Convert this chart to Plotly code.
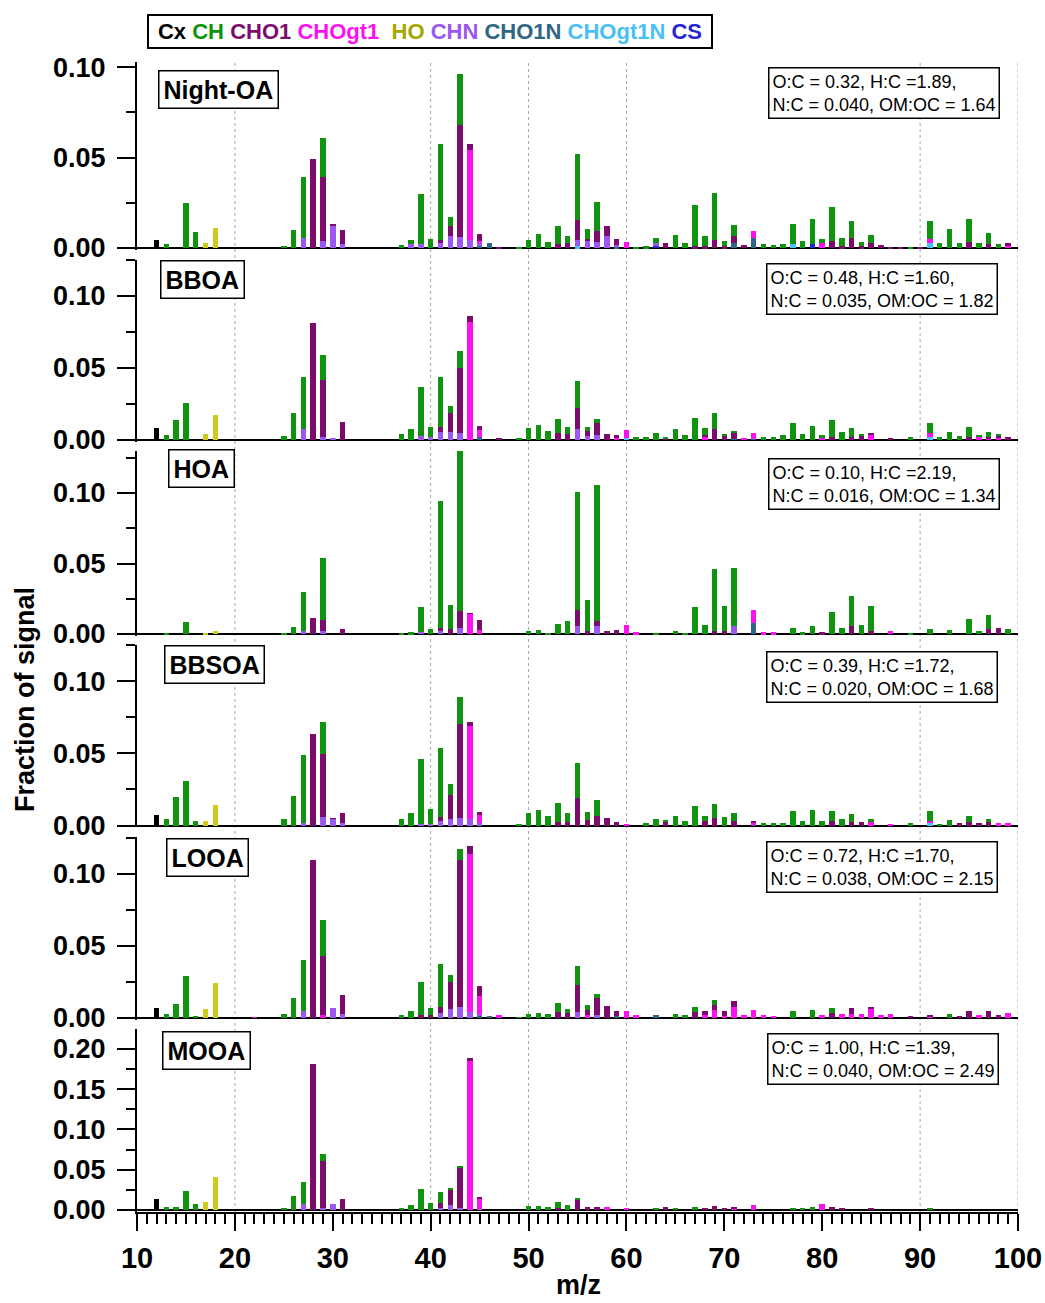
import plotly.graph_objects as go

# ---------------- data ----------------
MZ = list(range(12, 101))
CATEGORIES = ["Cx", "CH", "CHO1", "CHOgt1", "HO", "CHN", "CHO1N", "CHOgt1N", "CS"]
STACK_ORDER = ["CS", "CHOgt1N", "CHO1N", "CHN", "HO", "CHOgt1", "CHO1", "CH", "Cx"]
PANEL_NAMES = ["Night-OA", "BBOA", "HOA", "BBSOA", "LOOA", "MOOA"]
OC = ["0.32", "0.48", "0.10", "0.39", "0.72", "1.00"]
HC = ["1.89", "1.60", "2.19", "1.72", "1.70", "1.39"]
NC = ["0.040", "0.035", "0.016", "0.020", "0.038", "0.040"]
OMOC = ["1.64", "1.82", "1.34", "1.68", "2.15", "2.49"]
X_TICKS = [10, 20, 30, 40, 50, 60, 70, 80, 90, 100]
GRID_MZ = [20, 40, 50, 60, 90, 100]

# Night-OA
NIGHT_Cx = {12: 0.0046}
NIGHT_CH = {13: 0.002, 15: 0.025, 16: 0.0088, 25: 0.0013, 26: 0.0101, 27: 0.0335, 29: 0.0216,
            37: 0.0015, 38: 0.0022, 39: 0.0273, 40: 0.005, 41: 0.0534, 42: 0.0051, 43: 0.0285,
            49: 0.0005, 50: 0.0042, 51: 0.0075, 52: 0.0033, 53: 0.010, 54: 0.0036, 55: 0.0361,
            56: 0.0051, 57: 0.0162, 61: 0.0008, 62: 0.001, 63: 0.003, 65: 0.0074, 66: 0.0028,
            67: 0.0226, 68: 0.0056, 69: 0.0258, 70: 0.0027, 71: 0.0059, 74: 0.0024, 75: 0.0018,
            76: 0.002, 77: 0.0114, 78: 0.0037, 79: 0.014, 80: 0.0024, 81: 0.019, 82: 0.0045,
            83: 0.0094, 84: 0.0023, 85: 0.0042, 89: 0.0008, 91: 0.0095, 92: 0.0028, 93: 0.0103,
            94: 0.0028, 95: 0.0129, 96: 0.0028, 97: 0.0065, 98: 0.002}
NIGHT_CHO1 = {28: 0.049, 29: 0.0355, 30: 0.001, 31: 0.0078, 41: 0.0014, 42: 0.0056, 43: 0.0618,
              44: 0.0036, 45: 0.0035, 47: 0.0005, 53: 0.002, 54: 0.0028, 55: 0.0114, 56: 0.0015,
              57: 0.0059, 58: 0.0054, 59: 0.003, 64: 0.0028, 67: 0.001, 68: 0.001, 69: 0.0046,
              70: 0.001, 71: 0.0038, 72: 0.0018, 81: 0.0037, 82: 0.001, 83: 0.0055, 84: 0.001,
              85: 0.0028, 86: 0.0015, 87: 0.0005, 88: 0.0005, 90: 0.0005, 95: 0.0033, 97: 0.002,
              99: 0.0015}
NIGHT_CHOgt1 = {44: 0.0498, 45: 0.0015, 60: 0.0035, 73: 0.0037, 80: 0.0028, 91: 0.0024, 99: 0.0013}
NIGHT_HO = {17: 0.0028, 18: 0.011}
NIGHT_CHN = {27: 0.0057, 29: 0.0037, 30: 0.0124, 31: 0.002, 38: 0.002, 39: 0.0024, 41: 0.0028,
             42: 0.0064, 43: 0.006, 44: 0.0042, 45: 0.001, 55: 0.0032, 56: 0.0037, 57: 0.0033,
             58: 0.0066, 59: 0.001, 63: 0.001}
NIGHT_CHO1N = {45: 0.0015, 46: 0.0028, 59: 0.0008, 71: 0.0028, 73: 0.0057}
NIGHT_CHOgt1N = {55: 0.001, 77: 0.002, 91: 0.0028}
NIGHT_CS = {63: 0.0015, 79: 0.0022}

# BBOA
BBOA_Cx = {12: 0.008}
BBOA_CH = {13: 0.0034, 14: 0.0138, 15: 0.0257, 25: 0.003, 26: 0.0184, 27: 0.0361, 29: 0.0173,
           37: 0.0039, 38: 0.0076, 39: 0.0342, 40: 0.0067, 41: 0.035, 42: 0.0053, 43: 0.0115,
           49: 0.0007, 50: 0.008, 51: 0.0105, 52: 0.0065, 53: 0.0097, 54: 0.0053, 55: 0.0182,
           56: 0.003, 57: 0.0029, 61: 0.0018, 62: 0.0018, 63: 0.0048, 64: 0.0015, 65: 0.0075,
           66: 0.0036, 67: 0.0155, 68: 0.0045, 69: 0.0114, 70: 0.001, 71: 0.001, 74: 0.0018,
           75: 0.0022, 76: 0.0032, 77: 0.0115, 78: 0.0044, 79: 0.0095, 80: 0.002, 81: 0.0115,
           82: 0.005, 83: 0.0058, 84: 0.0005, 89: 0.0023, 91: 0.0069, 92: 0.0018, 93: 0.0055,
           94: 0.003, 95: 0.0069, 96: 0.0005, 97: 0.003, 98: 0.001}
BBOA_CHO1 = {28: 0.0811, 29: 0.0397, 31: 0.0126, 41: 0.003, 42: 0.0127, 43: 0.0455, 44: 0.0046,
             45: 0.0028, 47: 0.0007, 53: 0.0046, 54: 0.0039, 55: 0.0151, 56: 0.0032, 57: 0.0087,
             58: 0.0039, 59: 0.0018, 64: 0.0005, 68: 0.0015, 69: 0.0074, 70: 0.0031, 71: 0.0042,
             81: 0.0023, 82: 0.0003, 83: 0.0022, 84: 0.0034, 85: 0.001, 87: 0.0011, 95: 0.0023,
             97: 0.001, 98: 0.0012, 99: 0.0023}
BBOA_CHOgt1 = {44: 0.0816, 45: 0.005, 59: 0.0016, 60: 0.0055, 68: 0.002, 72: 0.0008, 73: 0.004,
               80: 0.0015, 85: 0.0036, 91: 0.0026, 96: 0.0023, 97: 0.0013, 98: 0.0016}
BBOA_HO = {17: 0.0041, 18: 0.0177}
BBOA_CHN = {27: 0.0076, 29: 0.0023, 30: 0.0011, 39: 0.0028, 40: 0.002, 41: 0.0057, 42: 0.0057,
            43: 0.0046, 55: 0.0074, 56: 0.003, 57: 0.0033}
BBOA_CHO1N = {45: 0.0019, 71: 0.001, 73: 0.001}
BBOA_CHOgt1N = {60: 0.0014, 91: 0.002}
BBOA_CS = {}

# HOA
HOA_Cx = {12: 0.001}
HOA_CH = {13: 0.0008, 15: 0.0088, 25: 0.0008, 26: 0.0048, 27: 0.0278, 29: 0.0434, 37: 0.0008,
          38: 0.0012, 39: 0.0178, 40: 0.0033, 41: 0.090, 42: 0.0171, 43: 0.1138, 50: 0.002,
          51: 0.003, 52: 0.001, 53: 0.0071, 54: 0.009, 55: 0.0834, 56: 0.0218, 57: 0.0965,
          63: 0.001, 65: 0.002, 66: 0.001, 67: 0.0193, 68: 0.0064, 69: 0.0444, 70: 0.0178,
          71: 0.0409, 77: 0.004, 78: 0.0012, 79: 0.006, 81: 0.0155, 82: 0.0045, 83: 0.0209,
          84: 0.0067, 85: 0.0182, 89: 0.0008, 91: 0.0033, 93: 0.0026, 95: 0.0107, 96: 0.002,
          97: 0.01, 99: 0.0033}
HOA_CHO1 = {28: 0.0114, 29: 0.0082, 31: 0.0033, 41: 0.002, 42: 0.0036, 43: 0.012, 44: 0.0005,
            45: 0.0072, 55: 0.0111, 56: 0.002, 57: 0.003, 58: 0.0024, 59: 0.003, 69: 0.002,
            70: 0.002, 80: 0.0012, 83: 0.006, 85: 0.002, 97: 0.0036, 98: 0.0043}
HOA_CHOgt1 = {44: 0.0143, 45: 0.003, 60: 0.0064, 61: 0.0012, 73: 0.0091, 74: 0.0012, 75: 0.0012,
              87: 0.002}
HOA_HO = {17: 0.0008, 18: 0.002}
HOA_CHN = {27: 0.002, 29: 0.002, 39: 0.0017, 41: 0.002, 43: 0.004, 55: 0.006, 57: 0.006, 71: 0.006}
HOA_CHO1N = {73: 0.0076}
HOA_CHOgt1N = {}
HOA_CS = {}

# BBSOA
BBSOA_Cx = {12: 0.0076}
BBSOA_CH = {13: 0.0046, 14: 0.0201, 15: 0.0308, 16: 0.0035, 25: 0.0042, 26: 0.0204, 27: 0.047,
            29: 0.022, 37: 0.0046, 38: 0.0086, 39: 0.0453, 40: 0.0106, 41: 0.0479, 42: 0.0074,
            43: 0.0186, 49: 0.001, 50: 0.0086, 51: 0.0111, 52: 0.0065, 53: 0.0129, 54: 0.006,
            55: 0.0245, 56: 0.0058, 57: 0.0111, 62: 0.0018, 63: 0.0042, 64: 0.001, 65: 0.0069,
            66: 0.0035, 67: 0.0136, 68: 0.0035, 69: 0.0099, 70: 0.0058, 71: 0.0058, 74: 0.0018,
            75: 0.0016, 76: 0.0018, 77: 0.0104, 78: 0.0035, 79: 0.0109, 80: 0.0035, 81: 0.007,
            82: 0.0046, 83: 0.0053, 85: 0.002, 89: 0.0018, 91: 0.0074, 92: 0.001, 93: 0.0039,
            95: 0.0046, 97: 0.0023}
BBSOA_CHO1 = {28: 0.0637, 29: 0.044, 30: 0.0005, 31: 0.0072, 41: 0.003, 42: 0.0173, 43: 0.065,
              44: 0.003, 45: 0.0023, 53: 0.0028, 54: 0.0028, 55: 0.019, 56: 0.0039, 57: 0.0063,
              58: 0.0053, 59: 0.0023, 64: 0.0025, 68: 0.003, 69: 0.0051, 71: 0.003, 73: 0.001,
              81: 0.003, 83: 0.0028, 84: 0.0023, 94: 0.0018, 95: 0.0023, 96: 0.0016, 97: 0.0023}
BBSOA_CHOgt1 = {44: 0.0646, 45: 0.0055, 60: 0.0012, 73: 0.0008, 85: 0.0026, 87: 0.0012,
                91: 0.0015, 98: 0.0018, 99: 0.0018}
BBSOA_HO = {17: 0.0035, 18: 0.0139}
BBSOA_CHN = {27: 0.0016, 29: 0.0058, 30: 0.0046, 31: 0.0016, 39: 0.001, 40: 0.001, 41: 0.003,
             42: 0.0042, 43: 0.0051, 44: 0.0042, 45: 0.0015}
BBSOA_CHO1N = {73: 0.001}
BBSOA_CHOgt1N = {91: 0.0015}
BBSOA_CS = {}

# LOOA
LOOA_Cx = {12: 0.0071}
LOOA_CH = {13: 0.003, 14: 0.0099, 15: 0.029, 16: 0.0014, 25: 0.0025, 26: 0.014, 27: 0.0357,
           29: 0.0248, 37: 0.0018, 38: 0.0046, 39: 0.023, 40: 0.0051, 41: 0.0299, 42: 0.0048,
           43: 0.0073, 49: 0.0005, 50: 0.003, 51: 0.0037, 52: 0.0025, 53: 0.0062, 54: 0.0026,
           55: 0.0127, 56: 0.0034, 57: 0.0028, 65: 0.003, 66: 0.0018, 67: 0.0035, 69: 0.0035,
           77: 0.0046, 79: 0.0053, 81: 0.0035, 93: 0.0025}
LOOA_CHO1 = {28: 0.1099, 29: 0.0412, 31: 0.0131, 39: 0.0018, 40: 0.0018, 41: 0.0039, 42: 0.0189,
             43: 0.1023, 44: 0.0057, 45: 0.0069, 53: 0.0041, 54: 0.0034, 55: 0.0191, 56: 0.0035,
             57: 0.012, 58: 0.0083, 59: 0.0033, 67: 0.0041, 68: 0.0025, 69: 0.0034, 70: 0.003,
             71: 0.0039, 81: 0.0034, 83: 0.0039, 85: 0.0015, 89: 0.0012, 91: 0.0015, 94: 0.0015,
             95: 0.0046, 97: 0.0046, 98: 0.0023}
LOOA_CHOgt1 = {22: 0.0005, 29: 0.002, 44: 0.1097, 45: 0.0122, 47: 0.0018, 56: 0.0018, 60: 0.0048,
               61: 0.0018, 68: 0.0023, 69: 0.0053, 70: 0.0016, 71: 0.0076, 72: 0.0023, 73: 0.0053,
               74: 0.0023, 75: 0.0015, 80: 0.0018, 82: 0.003, 83: 0.003, 84: 0.003, 85: 0.0061,
               86: 0.0018, 87: 0.003, 91: 0.0008, 96: 0.0018, 99: 0.0034}
LOOA_HO = {17: 0.006, 18: 0.0241}
LOOA_CHN = {27: 0.0048, 30: 0.0069, 31: 0.003, 41: 0.0037, 42: 0.0064, 43: 0.0076, 44: 0.0041,
            45: 0.0015, 55: 0.0041, 57: 0.002}
LOOA_CHO1N = {45: 0.0015, 46: 0.0014, 59: 0.0015, 63: 0.0018}
LOOA_CHOgt1N = {}
LOOA_CS = {}

# MOOA
MOOA_Cx = {12: 0.0137}
MOOA_CH = {13: 0.0037, 14: 0.0037, 15: 0.0237, 16: 0.0075, 25: 0.003, 26: 0.0178, 27: 0.0283,
           29: 0.0079, 37: 0.003, 38: 0.0062, 39: 0.0261, 40: 0.009, 41: 0.0145, 42: 0.0029,
           43: 0.001, 50: 0.0054, 51: 0.0054, 52: 0.0041, 53: 0.008, 54: 0.0062, 55: 0.0021,
           63: 0.002, 65: 0.003, 67: 0.004, 77: 0.002, 78: 0.0017, 79: 0.0033, 91: 0.0025}
MOOA_CHO1 = {28: 0.1817, 29: 0.0584, 31: 0.0137, 41: 0.0053, 42: 0.0187, 43: 0.0501, 44: 0.0042,
             45: 0.003, 53: 0.0024, 55: 0.0133, 56: 0.004, 57: 0.0033, 64: 0.0033, 68: 0.003,
             69: 0.005, 70: 0.003, 71: 0.002, 81: 0.0037, 82: 0.0025, 85: 0.002}
MOOA_CHOgt1 = {44: 0.1846, 45: 0.0126, 58: 0.0033, 60: 0.003, 71: 0.0017, 73: 0.0062, 80: 0.007}
MOOA_HO = {17: 0.0095, 18: 0.0407}
MOOA_CHN = {27: 0.007, 29: 0.003, 30: 0.0075, 41: 0.003, 42: 0.0062, 43: 0.003, 45: 0.001}
MOOA_CHO1N = {}
MOOA_CHOgt1N = {}
MOOA_CS = {}

PANEL_DATA = [
    dict(Cx=NIGHT_Cx, CH=NIGHT_CH, CHO1=NIGHT_CHO1, CHOgt1=NIGHT_CHOgt1, HO=NIGHT_HO,
         CHN=NIGHT_CHN, CHO1N=NIGHT_CHO1N, CHOgt1N=NIGHT_CHOgt1N, CS=NIGHT_CS),
    dict(Cx=BBOA_Cx, CH=BBOA_CH, CHO1=BBOA_CHO1, CHOgt1=BBOA_CHOgt1, HO=BBOA_HO,
         CHN=BBOA_CHN, CHO1N=BBOA_CHO1N, CHOgt1N=BBOA_CHOgt1N, CS=BBOA_CS),
    dict(Cx=HOA_Cx, CH=HOA_CH, CHO1=HOA_CHO1, CHOgt1=HOA_CHOgt1, HO=HOA_HO,
         CHN=HOA_CHN, CHO1N=HOA_CHO1N, CHOgt1N=HOA_CHOgt1N, CS=HOA_CS),
    dict(Cx=BBSOA_Cx, CH=BBSOA_CH, CHO1=BBSOA_CHO1, CHOgt1=BBSOA_CHOgt1, HO=BBSOA_HO,
         CHN=BBSOA_CHN, CHO1N=BBSOA_CHO1N, CHOgt1N=BBSOA_CHOgt1N, CS=BBSOA_CS),
    dict(Cx=LOOA_Cx, CH=LOOA_CH, CHO1=LOOA_CHO1, CHOgt1=LOOA_CHOgt1, HO=LOOA_HO,
         CHN=LOOA_CHN, CHO1N=LOOA_CHO1N, CHOgt1N=LOOA_CHOgt1N, CS=LOOA_CS),
    dict(Cx=MOOA_Cx, CH=MOOA_CH, CHO1=MOOA_CHO1, CHOgt1=MOOA_CHOgt1, HO=MOOA_HO,
         CHN=MOOA_CHN, CHO1N=MOOA_CHO1N, CHOgt1N=MOOA_CHOgt1N, CS=MOOA_CS),
]

# ---------------- style / geometry ----------------
W, H = 1045, 1303
FONT = "Liberation Sans"
BAR_COLORS = {"Cx": "#000000", "CH": "#109410", "CHO1": "#7c0c6c", "CHOgt1": "#ff10f0",
              "HO": "#cccc1c", "CHN": "#9b58f0", "CHO1N": "#2f6585", "CHOgt1N": "#48bff5",
              "CS": "#2626d6"}
LEGEND_COLORS = dict(BAR_COLORS, HO="#a6a600")
X_PX = (137, 1018)
PANEL_PX = [(62, 250), (260, 442), (451, 636), (645, 827), (837, 1020), (1029, 1212)]
Y_RANGES = [(-0.0011, 0.1028), (-0.0014, 0.125), (-0.0014, 0.1298), (-0.001, 0.125),
            (-0.0014, 0.1255), (-0.0025, 0.2248)]
LABEL_POS = [(158, 70), (160, 260), (168, 449), (164, 645), (166, 838), (162, 1031)]
RATIO_POS = [(768, 67), (766, 263), (768, 458), (766, 651), (766, 841), (767, 1033)]


def fx(p):
    return p / W


def fy(p):
    return 1 - p / H


fig = go.Figure()
layout = dict(
    width=W, height=H, margin=dict(l=0, r=0, t=0, b=0, pad=0, autoexpand=False),
    paper_bgcolor="white", plot_bgcolor="rgba(0,0,0,0)",
    barmode="stack", bargap=0, showlegend=False,
    font=dict(family=FONT, color="black"),
)

n = len(PANEL_NAMES)
for i in range(n):
    k = "" if i == 0 else str(i + 1)
    data = PANEL_DATA[i]
    for cat in STACK_ORDER:
        d = data[cat]
        fig.add_trace(go.Bar(
            x=MZ, y=[d.get(m, 0.0) for m in MZ], width=0.56,
            marker=dict(color=BAR_COLORS[cat], line=dict(width=0)),
            name=cat, xaxis="x" + k, yaxis="y" + k, showlegend=False,
        ))
    top, bot = PANEL_PX[i]
    last = i == n - 1
    xa = dict(domain=[fx(X_PX[0]), fx(X_PX[1])], range=[10, 100], anchor="y" + k,
              showgrid=False, zeroline=False, automargin=False)
    if last:
        xa.update(showline=True, linecolor="black", linewidth=2, ticks="outside",
                  tickvals=X_TICKS, ticklen=17, tickwidth=2, tickcolor="black",
                  tickfont=dict(size=29, weight="bold", family=FONT),
                  ticklabelstandoff=2,
                  minor=dict(dtick=1, tick0=10, ticks="outside", ticklen=10, tickwidth=1.5,
                             tickcolor="black"))
    else:
        xa.update(showline=False, showticklabels=False, ticks="", matches="x6")
    ya = dict(domain=[fy(bot), fy(top)], range=list(Y_RANGES[i]), anchor="x" + k,
              showline=True, linecolor="black", linewidth=2, ticks="outside",
              tick0=0, dtick=0.05, tickformat=".2f", ticklen=18, tickwidth=2,
              tickcolor="black", tickfont=dict(size=27, weight="bold", family=FONT),
              ticklabelstandoff=6, automargin=False,
              minor=dict(dtick=0.025, tick0=0, ticks="outside", ticklen=9, tickwidth=1.5,
                         tickcolor="black"),
              showgrid=False, zeroline=True, zerolinecolor="black", zerolinewidth=2)
    layout["xaxis" + k] = xa
    layout["yaxis" + k] = ya

fig.update_layout(**layout)

# dotted vertical guide lines
for m in GRID_MZ:
    fig.add_shape(type="line", xref="x6", yref="paper", x0=m, x1=m,
                  y0=fy(PANEL_PX[-1][1]), y1=fy(PANEL_PX[0][0]),
                  line=dict(color="#a8a8a8", width=1, dash="dot"), layer="below")

annotations = []
for i in range(n):
    lx, ly = LABEL_POS[i]
    annotations.append(dict(
        text=PANEL_NAMES[i], x=fx(lx), y=fy(ly), xref="paper", yref="paper",
        xanchor="left", yanchor="top", showarrow=False,
        font=dict(size=25, weight="bold", family=FONT, color="black"),
        bgcolor="white", bordercolor="black", borderwidth=1.5, borderpad=4))
    rx, ry = RATIO_POS[i]
    annotations.append(dict(
        text=f"O:C = {OC[i]}, H:C ={HC[i]},<br>N:C = {NC[i]}, OM:OC = {OMOC[i]}",
        x=fx(rx), y=fy(ry), xref="paper", yref="paper", xanchor="left", yanchor="top",
        align="left", showarrow=False,
        font=dict(size=18, family=FONT, color="black"),
        bgcolor="white", bordercolor="black", borderwidth=1.5, borderpad=3))

legend_parts = []
for j, cat in enumerate(CATEGORIES):
    sep = "" if j == 0 else ("  " if cat == "HO" else " ")
    legend_parts.append(f"{sep}<span style='color:{LEGEND_COLORS[cat]}'>{cat}</span>")
annotations.append(dict(
    text="".join(legend_parts), x=fx(147), y=fy(14), xref="paper", yref="paper",
    xanchor="left", yanchor="top", showarrow=False, width=558, height=27, align="center",
    font=dict(size=22, weight="bold", family=FONT),
    bgcolor="white", bordercolor="black", borderwidth=2, borderpad=2))

annotations.append(dict(
    text="Fraction of signal", x=fx(25), y=fy(700), xref="paper", yref="paper",
    xanchor="center", yanchor="middle", textangle=-90, showarrow=False,
    font=dict(size=27, weight="bold", family=FONT, color="black")))
annotations.append(dict(
    text="m/z", x=fx(578), y=fy(1285), xref="paper", yref="paper",
    xanchor="center", yanchor="middle", showarrow=False,
    font=dict(size=27, weight="bold", family=FONT, color="black")))

fig.update_layout(annotations=annotations)
fig.write_html("out.html", config={"displayModeBar": False},
               post_script="document.body.style.margin='0';document.body.style.overflow='hidden';")
